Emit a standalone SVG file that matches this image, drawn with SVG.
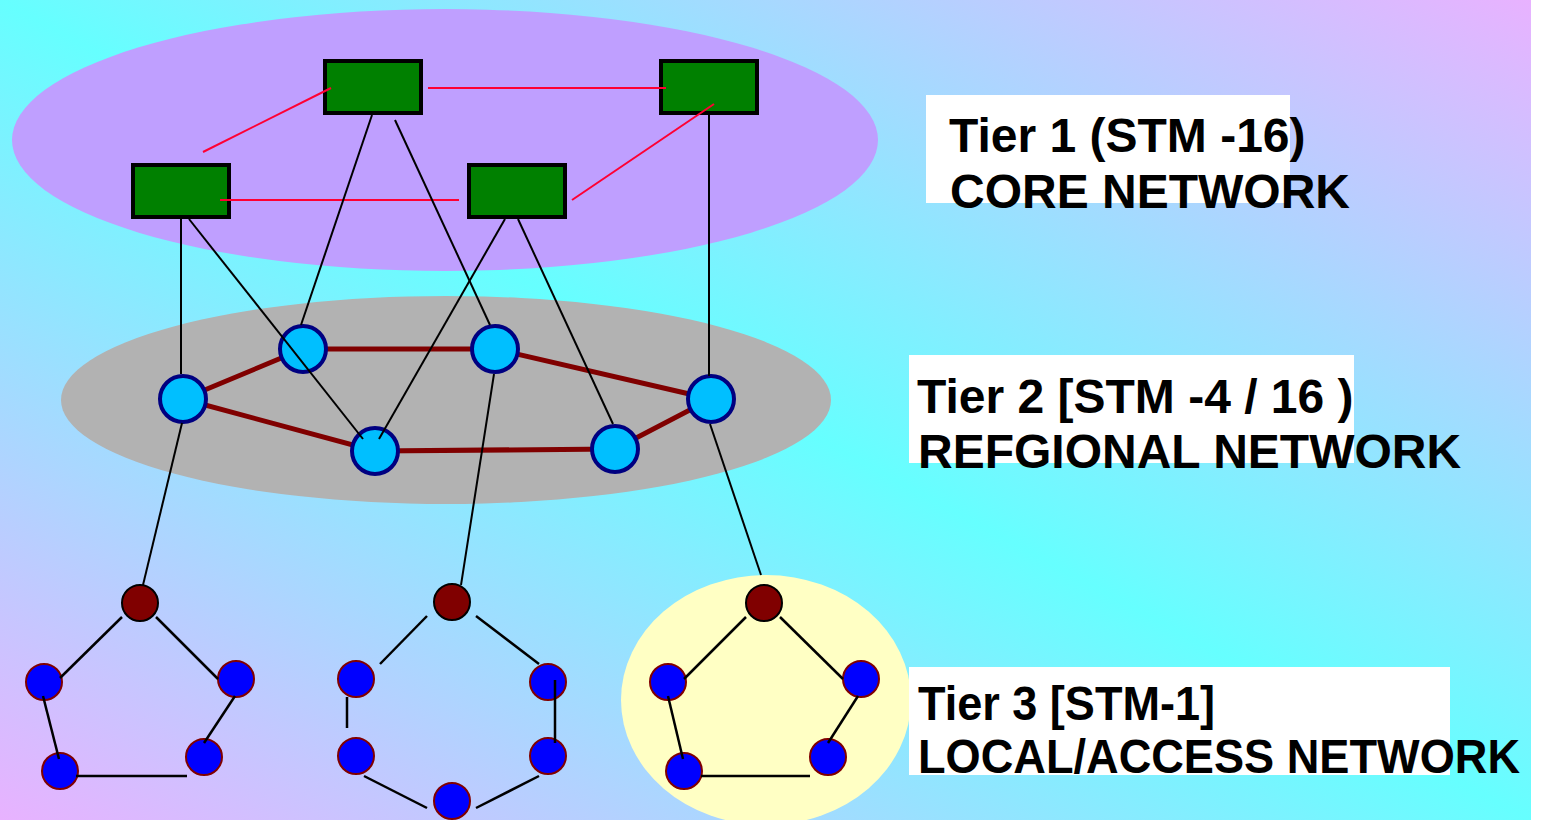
<svg xmlns="http://www.w3.org/2000/svg" width="1545" height="820" viewBox="0 0 1545 820">
<defs>
<linearGradient id="bg" x1="1" y1="0" x2="0" y2="1">
<stop offset="0" stop-color="#E8B2FF"/>
<stop offset="0.5" stop-color="#66FFFF"/>
<stop offset="1" stop-color="#E8B2FF"/>
</linearGradient>
<style>
.core{fill:#008000;stroke:#000;stroke-width:4}
.reg{fill:#00BFFF;stroke:#000080;stroke-width:4}
.hub{fill:#800000;stroke:#000;stroke-width:2}
.acc{fill:#0000FF;stroke:#800000;stroke-width:2}
.red{stroke:#FF0033;stroke-width:2;fill:none}
.blk{stroke:#000;stroke-width:2;fill:none}
.ring{stroke:#800000;stroke-width:5;fill:none}
.acl{stroke:#000;stroke-width:2.5;fill:none}
.box{fill:#fff}
.lbl{font-family:"Liberation Sans",Arial,sans-serif;font-weight:bold;font-size:48px;fill:#000}
</style>
</defs>
<rect x="0" y="0" width="1545" height="820" fill="#fff"/>
<rect x="0" y="0" width="1531" height="820" fill="url(#bg)"/>
<g id="zones">
<ellipse cx="445" cy="140" rx="433" ry="131" fill="#BF9FFF"/>
<ellipse cx="446" cy="400" rx="385" ry="104" fill="#B2B2B2"/>
<ellipse cx="766" cy="700" rx="145" ry="125" fill="#FFFFC4"/>
</g>
<g id="ring-connectors">
<polyline class="ring" points="183,399 303,349 495,349 711,399 615,449 375,451 183,399"/>
</g>
<g id="tier1">
<rect id="core-a" class="core" x="325" y="61" width="96" height="52"/>
<rect id="core-b" class="core" x="661" y="61" width="96" height="52"/>
<rect id="core-c" class="core" x="133" y="165" width="96" height="52"/>
<rect id="core-d" class="core" x="469" y="165" width="96" height="52"/>
</g>
<g id="tier2">
<circle id="reg-1" class="reg" cx="183" cy="399" r="23"/>
<circle id="reg-2" class="reg" cx="303" cy="349" r="23"/>
<circle id="reg-3" class="reg" cx="495" cy="349" r="23"/>
<circle id="reg-4" class="reg" cx="711" cy="399" r="23"/>
<circle id="reg-5" class="reg" cx="615" cy="449" r="23"/>
<circle id="reg-6" class="reg" cx="375" cy="451" r="23"/>
</g>
<g id="tier3-left">
<circle class="hub" cx="140" cy="603" r="18"/>
<circle class="acc" cx="44" cy="682" r="18"/>
<circle class="acc" cx="236" cy="679" r="18"/>
<circle class="acc" cx="60" cy="771" r="18"/>
<circle class="acc" cx="204" cy="757" r="18"/>
</g>
<g id="tier3-mid">
<circle class="hub" cx="452" cy="602" r="18"/>
<circle class="acc" cx="356" cy="679" r="18"/>
<circle class="acc" cx="548" cy="682" r="18"/>
<circle class="acc" cx="356" cy="756" r="18"/>
<circle class="acc" cx="548" cy="756" r="18"/>
<circle class="acc" cx="452" cy="801" r="18"/>
</g>
<g id="tier3-right">
<circle class="hub" cx="764" cy="603" r="18"/>
<circle class="acc" cx="668" cy="682" r="18"/>
<circle class="acc" cx="861" cy="679" r="18"/>
<circle class="acc" cx="684" cy="771" r="18"/>
<circle class="acc" cx="828" cy="757" r="18"/>
</g>
<g id="connectors">
<line class="red" x1="203" y1="152" x2="331" y2="88"/>
<line class="red" x1="428" y1="88" x2="666" y2="88"/>
<line class="red" x1="220" y1="200" x2="459" y2="200"/>
<line class="red" x1="572" y1="200" x2="714" y2="104"/>
<line class="blk" x1="372" y1="115" x2="301" y2="325"/>
<line class="blk" x1="395" y1="120" x2="490" y2="325"/>
<line class="blk" x1="181" y1="219" x2="181" y2="374"/>
<line class="blk" x1="189" y1="219" x2="363" y2="439"/>
<line class="blk" x1="505" y1="219" x2="379" y2="439"/>
<line class="blk" x1="518" y1="219" x2="613" y2="424"/>
<line class="blk" x1="709" y1="115" x2="709" y2="376"/>
<line class="blk" x1="182" y1="423" x2="143" y2="585"/>
<line class="blk" x1="494" y1="374" x2="461" y2="585"/>
<line class="blk" x1="710" y1="424" x2="761" y2="575"/>
<line class="acl" x1="122" y1="617" x2="60" y2="678"/>
<line class="acl" x1="156" y1="617" x2="218" y2="679"/>
<line class="acl" x1="43" y1="696" x2="59" y2="759"/>
<line class="acl" x1="235" y1="696" x2="204" y2="743"/>
<line class="acl" x1="76" y1="776" x2="187" y2="776"/>
<line class="acl" x1="427" y1="616" x2="380" y2="664"/>
<line class="acl" x1="476" y1="616" x2="539" y2="664"/>
<line class="acl" x1="347" y1="697" x2="347" y2="728"/>
<line class="acl" x1="555" y1="680" x2="555" y2="743"/>
<line class="acl" x1="364" y1="776" x2="427" y2="808"/>
<line class="acl" x1="539" y1="776" x2="476" y2="808"/>
<line class="acl" x1="746" y1="617" x2="684" y2="679"/>
<line class="acl" x1="780" y1="617" x2="843" y2="679"/>
<line class="acl" x1="668" y1="696" x2="683" y2="759"/>
<line class="acl" x1="858" y1="696" x2="828" y2="743"/>
<line class="acl" x1="701" y1="776" x2="810" y2="776"/>
</g>
<g id="label-tier1">
<rect class="box" x="926" y="95" width="364" height="108"/>
<text class="lbl" x="949" y="152">Tier 1 (STM -16)</text>
<text class="lbl" x="950" y="208">CORE NETWORK</text>
</g>
<g id="label-tier2">
<rect class="box" x="909" y="355" width="445" height="108"/>
<text class="lbl" x="917" y="413">Tier 2 [STM -4 / 16 )</text>
<text class="lbl" x="918" y="468">REFGIONAL NETWORK</text>
</g>
<g id="label-tier3">
<rect class="box" x="909" y="667" width="541" height="108"/>
<text class="lbl" x="918" y="720" textLength="297" lengthAdjust="spacingAndGlyphs">Tier 3 [STM-1]</text>
<text class="lbl" x="918" y="773" textLength="602" lengthAdjust="spacingAndGlyphs">LOCAL/ACCESS NETWORK</text>
</g>
</svg>
